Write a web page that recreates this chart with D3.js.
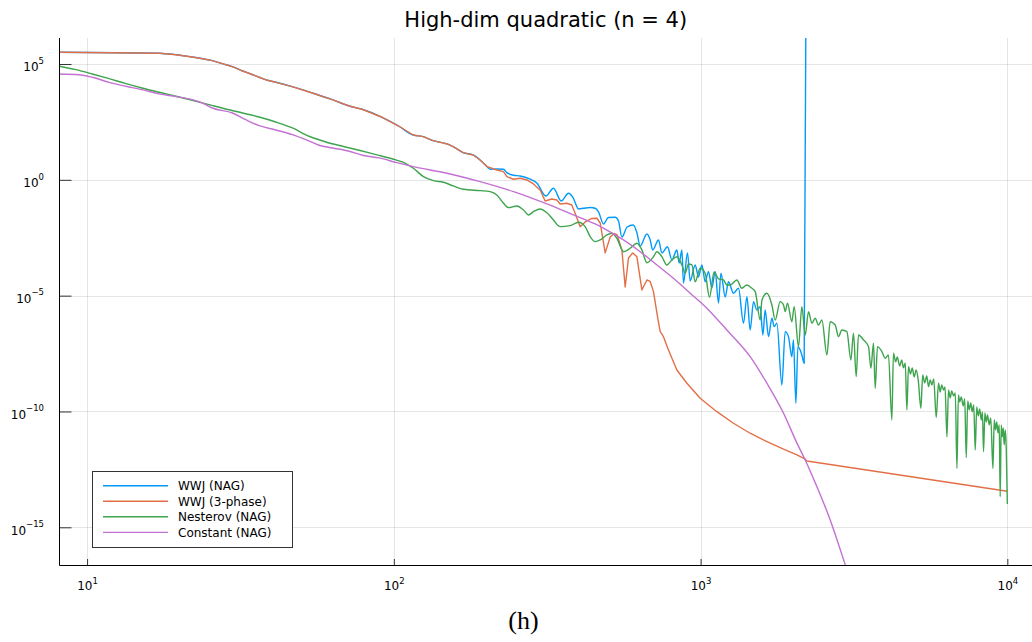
<!DOCTYPE html>
<html><head><meta charset="utf-8">
<script src="https://cdn.jsdelivr.net/npm/d3@7"></script>
<style>body{margin:0;background:#fff} svg{display:block} text{font-family:"DejaVu Sans",sans-serif}</style>
</head><body><svg id="c" width="1032" height="642"></svg>
<script>
const titleText = "High-dim quadratic (n = 4)";
const captionText = "(h)";
const seriesNames = ["WWJ (NAG)", "WWJ (3-phase)", "Nesterov (NAG)", "Constant (NAG)"];
const seriesColors = ["#009AFA", "#E36F47", "#3EA44E", "#C371D2"];
const xTickValues = [10, 100, 1000, 10000];
const xTickExponents = ["1", "2", "3", "4"];
const yTickValues = [1e5, 1, 1e-5, 1e-10, 1e-15];
const yTickExponents = ["5", "0", "\u22125", "\u221210", "\u221215"];

const wwjNag = [[8,3.2e5],[17.2,2.9e5],[19.5,2.52e5],[22.0,2.0e5],[23.8,1.69e5],[25.6,1.39e5],[26.9,1.14e5],[28.4,9.3e4],[30.2,7.2e4],[32.0,5.1e4],[34.2,3.7e4],[36.4,2.67e4],[38.7,1.98e4],[41.3,1.62e4],[46.6,1.05e4],[54.2,5.6e3],[62.9,2.9e3],[71.5,1.54e3],[78.8,1.11e3],[91.6,501],[104,205],[115.6,86],[124.6,73],[134.3,49],[149.2,35.3],[156.1,27.0],[168.2,14.9],[181.4,11.8],[191.1,7.2],[201.5,3.7],[206.1,2.85],[216.7,2.94],[227.8,2.85],[233.6,2.04],[245.4,1.57],[258.1,1.47],[278.2,1.06],[292.5,0.731],[313.0,0.201],[331.4,0.432],[351.3,0.122],[371.0,0.262],[384.3,0.165],[399.9,0.0552],[415.2,0.0592],[436.7,0.0641],[453.3,0.0592],[464.8,0.0409],[482.5,0.0124],[500.7,0.0237],[526.7,0.0242],[540.0,0.0168],[553.9,0.00341],[576.4,0.00922],[603.0,0.01125],[619.0,0.00561],[635.6,0.0014],[668.2,0.0046],[685.0,0.00254],[698.0,9.4e-4],[729.1,0.00254],[747.9,7.0e-4],[780.1,0.0013],[806.2,3.48e-4],[836.9,9.4e-4],[851.6,2.58e-4],[869.0,9.4e-4],[879.5,3.53e-5],[906.4,7.0e-4],[925.0,4.3e-5],[960.3,2.11e-4],[984.3,6.4e-5],[1010,2.11e-4],[1035,4.0e-5],[1061,1.09e-4],[1089,2.15e-5],[1116,1.09e-4],[1144,4.8e-6],[1165,9.3e-5],[1203,8.8e-6],[1233,4.0e-5],[1280,1.27e-5],[1329,2.08e-5],[1380,6.4e-7],[1416,9.1e-6],[1451,3.3e-7],[1488,5.5e-6],[1526,2.41e-6],[1564,3.35e-6],[1596,2.0e-7],[1624,2.41e-6],[1665,1.7e-7],[1708,1.06e-6],[1738,4.6e-7],[1773,6.4e-7],[1841,1.4e-9],[1887,2.8e-7],[1934,1.7e-7],[1984,2.33e-8],[2008,1.23e-7],[2045,2.27e-10],[2076,6.3e-8],[2112,4.5e-8],[2139,2.75e-8],[2176,1.21e-8],[2214,1e12]];

const wwj3Phase = [[8,3.2e5],[17.2,2.9e5],[19.5,2.52e5],[22.0,2.0e5],[23.8,1.69e5],[25.6,1.39e5],[26.9,1.14e5],[28.4,9.3e4],[30.2,7.2e4],[32.0,5.1e4],[34.2,3.7e4],[36.4,2.67e4],[38.7,1.98e4],[41.3,1.62e4],[46.6,1.05e4],[54.2,5.6e3],[62.9,2.9e3],[71.5,1.54e3],[78.8,1.11e3],[91.6,501],[104,205],[115.6,86],[124.6,73],[134.3,49],[149.2,35.3],[156.1,27.0],[168.2,14.9],[181.4,11.8],[191.1,7.2],[201.5,3.7],[216.7,2.66],[227.8,2.25],[233.6,1.37],[245.4,1.06],[258.1,1.17],[271.5,0.985],[285.2,0.662],[299.9,0.365],[311.4,0.122],[327.4,0.149],[340.0,0.135],[348.5,0.0907],[366.4,0.0973],[380.4,0.082],[390.0,0.036],[405,0.0095],[420.5,0.0152],[442.3,0.0215],[459.2,0.0219],[470.7,0.0137],[488.7,7.0e-4],[507.4,0.0034],[522.8,0.00483],[534.7,0.00417],[553.9,9.4e-4],[567.8,2.37e-5],[582.1,4.24e-4],[600.7,7.0e-4],[619.9,4.8e-4],[643.6,1.76e-5],[668.2,4.76e-5],[685.0,4.1e-5],[702.2,1.49e-5],[723.7,1.24e-6],[738.5,2.8e-7],[756.9,1.7e-7],[785.8,4.5e-8],[836.9,6.2e-9],[902.4,1.66e-9],[997,3.7e-10],[1130,9.8e-11],[1280,3.1e-11],[1451,1.15e-11],[1645,5.0e-12],[1864,2.35e-12],[2061,1.33e-12],[2193,8.7e-13],[2222,7.3e-13],[10000,3.6e-14]];

const nesterovNag = [[8.11,7.96e4],[9.19,5.68e4],[10.4,3.70e4],[11.8,2.32e4],[13.4,1.41e4],[15.1,9.2e3],[17.2,6.0e3],[19.5,4.04e3],[22.0,2.71e3],[25.0,1.75e3],[28.3,1.14e3],[32.1,768],[36.4,516],[41.2,314],[46.7,173],[52.9,75.9],[60.0,43.1],[68.0,28.1],[77.1,18.8],[87.4,12.2],[99.7,7.7],[107.5,5.7],[115.8,3.15],[124.9,1.37],[134.6,0.918],[145.1,0.783],[156.4,0.543],[168.6,0.391],[191.1,0.340],[206.1,0.308],[216.7,0.222],[227.8,0.0973],[236.5,0.0628],[251.8,0.0743],[264.6,0.050],[274.8,0.0304],[285.2,0.0422],[299.9,0.0552],[315.4,0.0382],[331.4,0.0185],[348.5,0.0095],[375.7,0.0105],[399.9,0.0147],[420.5,0.0095],[436.7,0.00352],[453.3,0.00214],[470.7,0.00254],[494.9,0.00417],[513.8,0.00493],[533.5,0.0030],[560.6,7.9e-4],[589.5,0.00111],[619.9,0.00182],[643.6,9.4e-4],[668.2,2.65e-4],[702.2,4.8e-4],[720.5,7.9e-4],[747.9,4.8e-4],[776.5,2.11e-4],[806.2,3.48e-4],[836.9,4.8e-4],[869.0,2.11e-4],[891.0,9.3e-5],[913.3,2.33e-4],[936.9,2.11e-4],[960.3,4.0e-5],[997,1.52e-4],[1035,9.3e-5],[1069,8.4e-6],[1107,1.05e-4],[1144,5.3e-5],[1187,4.75e-5],[1218,2.9e-5],[1249,2.9e-5],[1313,4.75e-5],[1363,2.08e-5],[1416,2.9e-5],[1470,2.08e-5],[1507,1.49e-5],[1564,8.9e-7],[1585,6.5e-6],[1645,1.27e-5],[1708,3.96e-6],[1751,8.9e-7],[1817,5.5e-6],[1864,3.96e-6],[1887,2.04e-6],[1920,4.7e-6],[1984,7.5e-7],[2019,3.35e-6],[2085,6.3e-8],[2139,3.35e-6],[2193,2.0e-7],[2248,2.04e-6],[2306,6.4e-7],[2364,1.06e-6],[2423,5.4e-7],[2486,8.9e-7],[2581,2.75e-8],[2646,7.5e-7],[2747,5.4e-7],[2816,1.7e-7],[2887,3.3e-7],[2999,2.8e-7],[3090,1.68e-8],[3151,2.38e-7],[3216,3.2e-9],[3272,2.0e-7],[3397,1.23e-7],[3527,6.3e-8],[3591,7.4e-9],[3662,8.9e-8],[3709,1.0e-9],[3773,6.3e-8],[3900,3.83e-8],[3997,1.99e-8],[4097,2.75e-8],[4203,4.3e-11],[4254,3.27e-8],[4326,1.38e-8],[4375,2.26e-8],[4458,9.2e-9],[4525,1.68e-8],[4586,7.6e-9],[4648,1.25e-8],[4705,1.17e-10],[4762,8.6e-9],[4834,4.2e-9],[4896,7.6e-9],[4970,3.1e-9],[5045,6.2e-9],[5122,2.3e-9],[5227,1.38e-10],[5298,3.8e-9],[5379,1.71e-9],[5461,3.42e-9],[5534,1.18e-9],[5606,2.3e-9],[5677,1.40e-9],[5754,2.54e-9],[5864,5.6e-11],[5966,1.66e-9],[6042,6.98e-10],[6111,1.40e-9],[6194,8.5e-10],[6264,1.15e-9],[6355,8.0e-12],[6430,8.5e-10],[6515,3.84e-10],[6587,7.7e-10],[6678,4.7e-10],[6765,6.3e-10],[6851,3.5e-13],[6927,5.2e-10],[6996,2.58e-10],[7075,4.25e-10],[7182,1.74e-10],[7263,3.48e-10],[7345,1.02e-12],[7429,2.85e-10],[7513,1.17e-10],[7598,2.34e-10],[7683,9.6e-11],[7771,1.92e-10],[7858,2.19e-12],[7949,1.57e-10],[8038,6.4e-11],[8128,1.29e-10],[8220,4.3e-11],[8293,9.6e-11],[8363,1.85e-12],[8450,8.7e-11],[8534,3.54e-11],[8617,7.1e-11],[8729,2.63e-11],[8830,5.3e-11],[8974,3.5e-13],[9065,4.3e-11],[9150,1.60e-11],[9233,3.54e-11],[9326,1.19e-11],[9410,2.63e-11],[9478,2.1e-14],[9552,2.63e-11],[9622,8.0e-12],[9696,1.95e-11],[9768,3.6e-12],[9842,1.60e-11],[9917,2.95e-12],[10000,1.02e-14]];

const constantNag = [[8.1,3.7e4],[9.42,3.45e4],[10.4,2.67e4],[11.8,1.62e4],[13.4,1.09e4],[15.1,7.8e3],[17.2,5.1e3],[19.5,3.9e3],[22.0,2.9e3],[23.8,2.07e3],[25.6,1.26e3],[29.8,768],[32.9,394],[36.4,217],[41.2,142],[46.7,89],[51.7,54],[57.1,31],[63.1,23.7],[71.5,17.1],[79.0,11.5],[89.6,8.8],[102.3,5.5],[115.8,3.7],[148.9,1.92],[191.1,0.83],[245.5,0.308],[315.4,0.0907],[385.1,0.0304],[453.3,0.0124],[494.9,6.8e-3],[560.6,2.54e-3],[635.6,7.9e-4],[720.5,2.11e-4],[815.9,5.6e-5],[925,1.27e-5],[1048,2.86e-6],[1218,3.3e-7],[1451,2.33e-8],[1645,1.66e-9],[1864,8.4e-11],[2061,4.3e-12],[2193,8.1e-13],[2394,5.7e-14],[2646,2.09e-15],[2962,2.4e-17],[3028,9.8e-18]];

const allSeries = [wwjNag, wwj3Phase, nesterovNag, constantNag];
const seriesCurves = [d3.curveMonotoneX, d3.curveLinear, d3.curveMonotoneX, d3.curveMonotoneX];

const W = 1032, H = 642;
const plotL = 59.5, plotR = 1032, plotT = 38, plotB = 565;
const svg = d3.select("#c");
const x = d3.scaleLog().domain([8.13, 12034]).range([plotL, plotR]);
const y = d3.scaleLog().domain([1.324e6, 2.36e-17]).range([plotT, plotB]);

svg.append("rect").attr("width", W).attr("height", H).attr("fill", "#fff");

// grid
const grid = svg.append("g");
grid.selectAll("line.gx").data(xTickValues).join("line")
  .attr("x1", d => Math.round(x(d)) + 0.5).attr("x2", d => Math.round(x(d)) + 0.5)
  .attr("y1", plotT).attr("y2", plotB).attr("stroke", "#000").attr("stroke-opacity", 0.1).attr("stroke-width", 1);
grid.selectAll("line.gy").data(yTickValues).join("line")
  .attr("y1", d => Math.round(y(d)) + 0.5).attr("y2", d => Math.round(y(d)) + 0.5)
  .attr("x1", plotL).attr("x2", plotR).attr("stroke", "#000").attr("stroke-opacity", 0.1).attr("stroke-width", 1);

// clip
svg.append("clipPath").attr("id", "clip").append("rect")
  .attr("x", plotL).attr("y", plotT).attr("width", plotR - plotL).attr("height", plotB - plotT);

svg.append("g").attr("clip-path", "url(#clip)")
  .selectAll("path").data(allSeries).join("path")
  .attr("d", (d, i) => d3.line().x(p => x(p[0])).y(p => y(p[1])).curve(seriesCurves[i])(d))
  .attr("fill", "none")
  .attr("stroke", (d, i) => seriesColors[i]).attr("stroke-width", 1.4)
  .attr("stroke-linejoin", "round");

// axes
const gx = svg.append("g").attr("transform", `translate(0,${plotB})`)
  .call(d3.axisBottom(x).tickValues(xTickValues).tickSize(-6).tickFormat(() => ""));
gx.select(".domain").remove();
gx.selectAll(".tick line").attr("stroke", "#333");
gx.selectAll(".tick text").each(function(d, i) {
  const t = d3.select(this).attr("y", 25).attr("dy", null).attr("font-size", 12).attr("fill", "#000").attr("text-anchor", "middle");
  t.append("tspan").text("10");
  t.append("tspan").attr("font-size", 8.5).attr("dy", -6.5).text(xTickExponents[i]);
});

const gy = svg.append("g").attr("transform", `translate(${plotL},0)`)
  .call(d3.axisLeft(y).tickValues(yTickValues).tickSize(-12).tickPadding(15.5).tickFormat(() => ""));
gy.select(".domain").remove();
gy.selectAll(".tick line").attr("stroke", "#333");
gy.selectAll(".tick text").each(function(d, i) {
  const t = d3.select(this).attr("dy", null).attr("y", 6.7).attr("font-size", 12).attr("fill", "#000").attr("text-anchor", "end");
  t.append("tspan").text("10");
  t.append("tspan").attr("font-size", 8.5).attr("dy", -7.5).text(yTickExponents[i]);
});

svg.append("line").attr("x1", plotL).attr("x2", plotL).attr("y1", plotT).attr("y2", plotB + 0.5).attr("stroke", "#000").attr("stroke-width", 1);
svg.append("line").attr("x1", plotL).attr("x2", plotR).attr("y1", plotB + 0.5).attr("y2", plotB + 0.5).attr("stroke", "#000").attr("stroke-width", 1);

// title & caption
svg.append("text").attr("x", (plotL + plotR) / 2).attr("y", 27).attr("text-anchor", "middle")
  .attr("font-size", 21).attr("fill", "#000").text(titleText);
svg.append("text").attr("x", 523.5).attr("y", 629).attr("text-anchor", "middle")
  .style("font-family", "'Liberation Serif', serif").attr("font-size", 26).attr("fill", "#000").text(captionText);

// legend
const lg = svg.append("g");
lg.append("rect").attr("x", 92.5).attr("y", 471.5).attr("width", 200).attr("height", 76)
  .attr("fill", "#fff").attr("stroke", "#333").attr("stroke-width", 1);
const rows = lg.selectAll("g.row").data(seriesNames).join("g")
  .attr("transform", (d, i) => `translate(0,${485.7 + i * 15.55})`);
rows.append("line").attr("x1", 103).attr("x2", 168).attr("y1", 0).attr("y2", 0)
  .attr("stroke", (d, i) => seriesColors[i]).attr("stroke-width", 1.4);
rows.append("text").attr("x", 178).attr("y", 4.3).attr("font-size", 12).attr("fill", "#000").text(d => d);
</script></body></html>
